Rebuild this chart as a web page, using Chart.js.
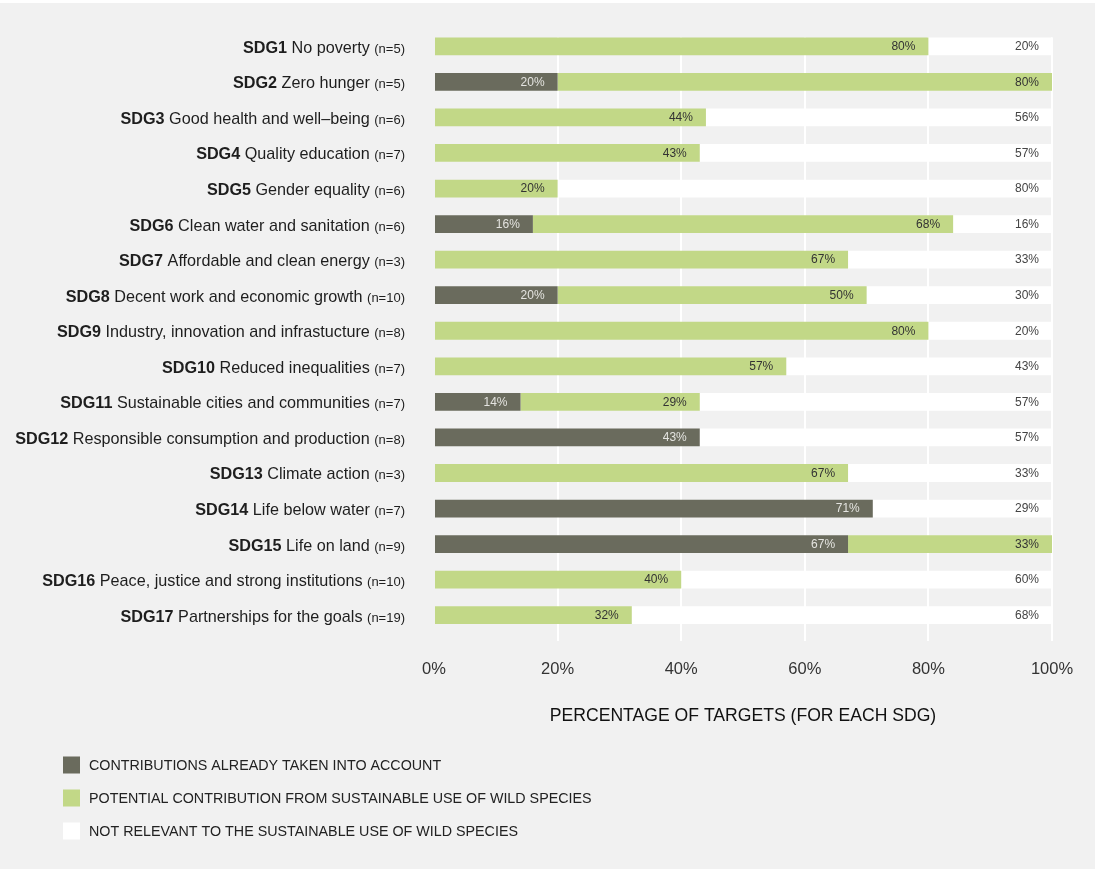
<!DOCTYPE html>
<html><head><meta charset="utf-8">
<script src="https://cdn.jsdelivr.net/npm/chart.js@4.4.0/dist/chart.umd.min.js"></script>
<style>
html,body{margin:0;padding:0;background:#f1f1f1;}
#wrap{position:relative;width:1095px;height:869px;overflow:hidden;}
#top{position:absolute;left:0;top:0;width:1095px;height:3px;background:#fff;}
canvas{display:block;}
</style></head><body>
<div id="wrap"><canvas id="c" width="1095" height="869"></canvas><div id="top"></div></div>
<script>
const sdgCodes = ['SDG1','SDG2','SDG3','SDG4','SDG5','SDG6','SDG7','SDG8','SDG9','SDG10','SDG11','SDG12','SDG13','SDG14','SDG15','SDG16','SDG17'];
const sdgNames = ['No poverty','Zero hunger','Good health and well\u2013being','Quality education','Gender equality','Clean water and sanitation','Affordable and clean energy','Decent work and economic growth','Industry, innovation and infrastucture','Reduced inequalities','Sustainable cities and communities','Responsible consumption and production','Climate action','Life below water','Life on land','Peace, justice and strong institutions','Partnerships for the goals'];
const sdgN = [5,5,6,7,6,6,3,10,8,7,7,8,3,7,9,10,19];
const alreadyTaken = [0,20,0,0,0,16,0,20,0,0,14,43,0,71,67,0,0];
const potential    = [80,80,44,43,20,68,67,50,80,57,29,0,67,0,33,40,32];
const notRelevant  = [20,0,56,57,80,16,33,30,20,43,57,57,33,29,0,60,68];
const xTicks = [0,20,40,60,80,100];
const seriesNames = ['CONTRIBUTIONS ALREADY TAKEN INTO ACCOUNT','POTENTIAL CONTRIBUTION FROM SUSTAINABLE USE OF WILD SPECIES','NOT RELEVANT TO THE SUSTAINABLE USE OF WILD SPECIES'];
const axisTitle = 'PERCENTAGE OF TARGETS (FOR EACH SDG)';

const BG = '#f1f1f1';
const colors = ['#6a6b5d','#c2d887','#ffffff'];
const labelColors = ['#e4e4e0','#333333','#444444'];
const SANS = '"Liberation Sans", Arial, sans-serif';

const overlay = {
  id: 'overlay',
  beforeDatasetsDraw(chart) {
    const ctx = chart.ctx, a = chart.chartArea;
    const first = chart.getDatasetMeta(0).data[0];
    const top = first.y - first.height / 2;
    ctx.save();
    ctx.fillStyle = BG;
    ctx.fillRect(a.left - 2, 0, a.right - a.left + 6, top);
    ctx.restore();
  },
  afterDatasetsDraw(chart) {
    const ctx = chart.ctx;
    chart.data.datasets.forEach((ds, d) => {
      const meta = chart.getDatasetMeta(d);
      meta.data.forEach((el, i) => {
        const v = ds.data[i];
        if (!v) return;
        ctx.save();
        ctx.font = '12px ' + SANS;
        ctx.fillStyle = labelColors[d];
        ctx.textAlign = 'right';
        ctx.textBaseline = 'middle';
        ctx.fillText(v + '%', el.x - 13, el.y + 0.5);
        ctx.restore();
      });
    });
  },
  afterDraw(chart) {
    const ctx = chart.ctx;
    const ys = chart.scales.y;
    const right = 405;
    chart.data.labels.forEach((lab, i) => {
      const y = ys.getPixelForValue(i) + 6.5;
      ctx.save();
      ctx.textBaseline = 'alphabetic';
      ctx.textAlign = 'left';
      ctx.fillStyle = '#1e1e1e';
      const nTxt = '(n=' + sdgN[i] + ')';
      const fN = '13px ' + SANS, fName = '16.2px ' + SANS, fCode = 'bold 16.2px ' + SANS;
      ctx.font = fN; const wN = ctx.measureText(nTxt).width;
      const nameTxt = ' ' + sdgNames[i] + ' ';
      ctx.font = fName; const wName = ctx.measureText(nameTxt).width;
      ctx.font = fCode; const wCode = ctx.measureText(sdgCodes[i]).width;
      let x = right - wN - wName - wCode;
      ctx.font = fCode; ctx.fillText(sdgCodes[i], x, y); x += wCode;
      ctx.font = fName; ctx.fillText(nameTxt, x, y); x += wName;
      ctx.font = fN; ctx.fillText(nTxt, x, y);
      ctx.restore();
    });
    const ly = [765, 798, 831];
    chart.data.datasets.forEach((ds, d) => {
      ctx.save();
      ctx.fillStyle = ds.backgroundColor;
      ctx.fillRect(63, ly[d] - 8.5, 17, 17);
      ctx.font = '14.3px ' + SANS;
      ctx.fillStyle = '#222222';
      ctx.textAlign = 'left';
      ctx.textBaseline = 'middle';
      ctx.fillText(ds.label, 89, ly[d] + 1);
      ctx.restore();
    });
  }
};

new Chart(document.getElementById('c'), {
  type: 'bar',
  data: {
    labels: sdgCodes,
    datasets: [
      { label: seriesNames[0], data: alreadyTaken, backgroundColor: colors[0] },
      { label: seriesNames[1], data: potential, backgroundColor: colors[1] },
      { label: seriesNames[2], data: notRelevant, backgroundColor: colors[2] }
    ]
  },
  options: {
    indexAxis: 'y',
    responsive: false,
    animation: false,
    devicePixelRatio: 1,
    datasets: { bar: { categoryPercentage: 1, barPercentage: 0.5, borderWidth: 0 } },
    layout: { padding: { left: 434, right: 43, top: 28.5, bottom: 142 } },
    plugins: { legend: { display: false }, tooltip: { enabled: false } },
    scales: {
      y: { stacked: true, display: false },
      x: {
        stacked: true, min: 0, max: 100,
        afterBuildTicks(scale) { scale.ticks = xTicks.map(v => ({ value: v })); },
        afterFit(scale) { scale.height = 94; },
        border: { display: false },
        grid: {
          color: (c) => c.tick && c.tick.value === 0 ? 'rgba(0,0,0,0)' : '#ffffff',
          lineWidth: 2, tickLength: 8, drawTicks: true
        },
        ticks: {
          padding: 19, color: '#333333',
          font: { family: SANS, size: 16.5 },
          callback: (v) => v + '%'
        },
        title: {
          display: true, text: axisTitle, color: '#111111',
          font: { family: SANS, size: 17.6 },
          padding: { top: 0, bottom: 0 }
        }
      }
    }
  },
  plugins: [overlay]
});
</script>
</body></html>
